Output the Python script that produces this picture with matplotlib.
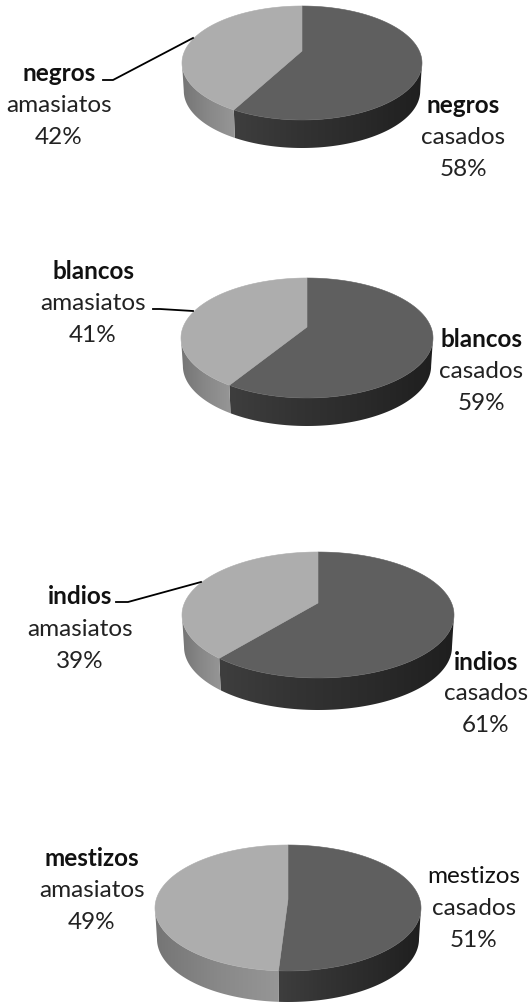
import numpy as np
import matplotlib
matplotlib.use('Agg')
from matplotlib import pyplot as plt
from matplotlib.colors import LinearSegmentedColormap
from matplotlib.patches import Polygon

plt.rcParams['font.family'] = ['Lato', 'DejaVu Sans']

groups = ['negros', 'blancos', 'indios', 'mestizos']
casados = [58, 59, 61, 51]
amasiatos = [42, 41, 39, 49]

W, H = 531, 1003
TOP_C = '#5f5f5f'
TOP_A = '#adadad'
FS = 17.5
LINE = 32

# geometry in pixels: cx, cy, rx, ry, depth, y of the apex
pies = [(302, 64, 120, 57, 28, 52), (307, 339, 126, 60, 28, 328),
        (318, 616, 136, 63, 32, 604), (288, 909, 133, 63, 31, 900)]
# label blocks: amasiatos x, y of first line, casados x, y of first line
labels = [(59, 73, 463, 105), (93, 271, 481, 339), (80, 597, 486, 662), (92, 859, 474, 877)]
bold_casados = [True, True, True, False]
leaders = [[(103, 81), (113, 81), (193, 39)], [(153, 310), (160, 310), (193, 312)],
           [(116, 603), (128, 603), (201, 583)], None]

fig = plt.figure(figsize=(W / 100, H / 100), dpi=100)
ax = fig.add_axes([0, 0, 1, 1])
ax.set_xlim(0, W)
ax.set_ylim(H, 0)
ax.axis('off')

dark = LinearSegmentedColormap.from_list('d', ['#3e3e3e', '#333333', '#2a2a2a', '#1f1f1f'])
light = LinearSegmentedColormap.from_list('l', ['#757575', '#888888', '#969696'])


def rim_angle(theta, ry, offset):
    # the apex sits above the ellipse centre, so cast the ray from there to the rim
    q = offset / ry
    s = np.sin(theta)
    t = s * q + np.sqrt((s * q) ** 2 + 1 - q ** 2)
    return np.arctan2(t * s - q, t * np.cos(theta))


def wall(cx, cy, rx, ry, d, a0, a1, cmap):
    # side of the cylinder, filled with a horizontal gradient clipped to its outline
    th = np.linspace(a0, a1, 120)
    x_top = cx + rx * np.cos(th)
    y_top = cy + ry * np.sin(th)
    x_bot = cx + 0.985 * rx * np.cos(th)
    y_bot = cy + d + ry * np.sin(th)
    pts = np.c_[np.r_[x_top, x_bot[::-1]], np.r_[y_top, y_bot[::-1]]]
    xmin, xmax = pts[:, 0].min(), pts[:, 0].max()
    ymin, ymax = pts[:, 1].min(), pts[:, 1].max()
    grad = np.linspace(0, 1, 256)[None, :]
    im = ax.imshow(grad, cmap=cmap, extent=(xmin, xmax, ymax, ymin), aspect='auto',
                   vmin=0, vmax=1, zorder=2, interpolation='bilinear')
    im.set_clip_path(Polygon(pts, transform=ax.transData))


for i, g in enumerate(groups):
    cx, cy, rx, ry, d, apex = pies[i]
    # slices start at 12 o'clock and run clockwise on screen
    theta = -np.pi / 2 + 2 * np.pi * casados[i] / 100
    split = rim_angle(theta, ry, cy - apex)
    wall(cx, cy, rx, ry, d, 0, split, dark)
    wall(cx, cy, rx, ry, d, split, np.pi, light)
    t = np.linspace(-np.pi / 2, split, 150)
    ax.fill(np.r_[cx, cx + rx * np.cos(t)], np.r_[apex, cy + ry * np.sin(t)], color=TOP_C, lw=0.4, zorder=3)
    t = np.linspace(split, 1.5 * np.pi, 150)
    ax.fill(np.r_[cx, cx + rx * np.cos(t)], np.r_[apex, cy + ry * np.sin(t)], color=TOP_A, lw=0.4, zorder=3)

    xa, ya, xc, yc = labels[i]
    ax.text(xa, ya, g, ha='center', va='center', fontsize=FS, fontweight='bold', color='#111111')
    ax.text(xa, ya + LINE, 'amasiatos', ha='center', va='center', fontsize=FS, color='#222222')
    ax.text(xa, ya + 2 * LINE, '%d%%' % amasiatos[i], ha='center', va='center', fontsize=FS, color='#222222')
    ax.text(xc, yc, g, ha='center', va='center', fontsize=FS,
            fontweight='bold' if bold_casados[i] else 'normal', color='#111111')
    ax.text(xc, yc + LINE, 'casados', ha='center', va='center', fontsize=FS, color='#222222')
    ax.text(xc, yc + 2 * LINE, '%d%%' % casados[i], ha='center', va='center', fontsize=FS, color='#222222')
    if leaders[i]:
        lx, ly = zip(*leaders[i])
        ax.plot(lx, ly, color='black', lw=1.3, zorder=4)

ax.set_xlim(0, W)
ax.set_ylim(H, 0)
fig.savefig('out.png', dpi=100)
